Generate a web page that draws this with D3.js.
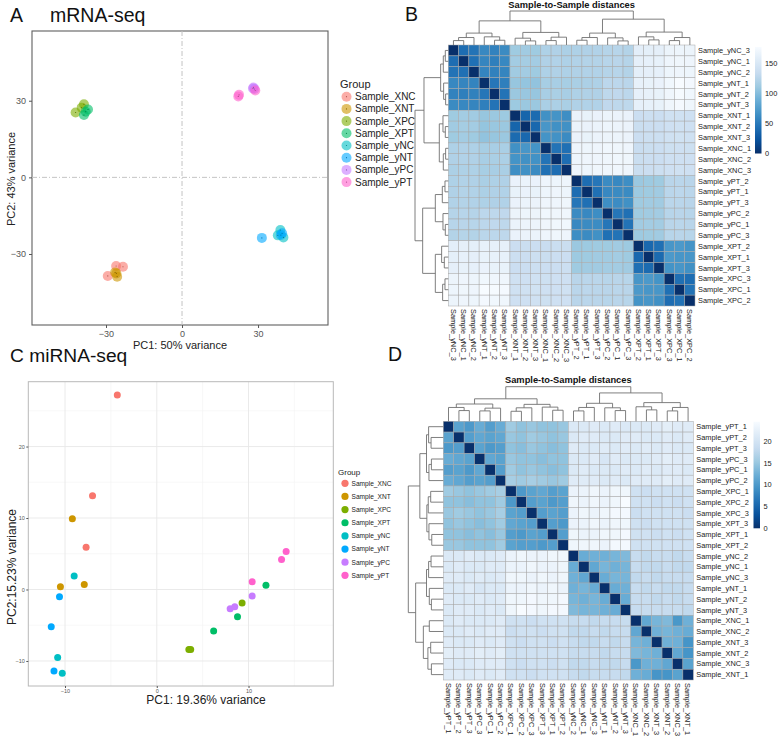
<!DOCTYPE html>
<html>
<head>
<meta charset="utf-8">
<script src="https://cdn.jsdelivr.net/npm/d3@7"></script>
<style>
  body { margin: 0; background: #fff; }
  text { font-family: "Liberation Sans", Arial, Helvetica, sans-serif; }
</style>
</head>
<body>
<svg id="fig" width="778" height="736"></svg>
<script>
// ---- data ----
const groups = ["Sample_XNC", "Sample_XNT", "Sample_XPC", "Sample_XPT", "Sample_yNC", "Sample_yNT", "Sample_yPC", "Sample_yPT"];
const groupColors = ["#F8766D", "#CD9600", "#7CAE00", "#00BE67", "#00BFC4", "#00A9FF", "#C77CFF", "#FF61CC"];

// A: mRNA-seq PCA (3 samples per group)
const mrnaGroup = [0, 0, 0, 1, 1, 1, 2, 2, 2, 3, 3, 3, 4, 4, 4, 5, 5, 5, 6, 6, 6, 7, 7, 7];
const mrnaPC1 = [-29.3, -26.0, -23.3, -25.6, -25.9, -26.4, -42.0, -38.7, -39.6, -37.1, -38.7, -38.0,
                 38.8, 37.8, 40.0, 31.5, 39.5, 39.0, 28.2, 28.0, 28.6, 22.5, 22.2, 28.9];
const mrnaPC2 = [-38.6, -34.7, -35.0, -38.9, -37.6, -37.2, 25.4, 28.6, 27.3, 26.6, 24.4, 25.7,
                 -20.6, -22.7, -23.5, -23.7, -21.9, -22.6, 35.2, 34.8, 34.6, 32.3, 31.7, 34.0];
const mrnaTicks = [-30, 0, 30];

// C: miRNA-seq PCA
const mirnaGroup = [0, 0, 0, 1, 1, 1, 2, 2, 2, 3, 3, 3, 4, 4, 4, 5, 5, 5, 6, 6, 6, 7, 7, 7];
const mirnaPC1 = [-4.3, -7.0, -7.7, -9.2, -10.5, -7.9, 3.5, 3.7, 9.3, 6.2, 8.8, 11.9,
                  -9.0, -10.8, -10.3, -10.6, -11.5, -11.2, 8.0, 8.5, 10.4, 10.4, 13.6, 14.1];
const mirnaPC2 = [27.2, 13.1, 5.9, 9.9, 0.4, 0.7, -8.4, -8.4, -1.9, -5.8, -3.8, 0.6,
                  1.9, -9.5, -11.7, -1.0, -5.2, -11.4, -2.7, -2.4, -0.9, 1.1, 4.2, 5.3];
const mirnaXTicks = [-10, 0, 10];
const mirnaYTicks = [-10, 0, 10, 20];

// B: mRNA sample-to-sample distances (lower triangle, rows in heatmap order)
const mrnaSamples = ["Sample_yNC_3", "Sample_yNC_1", "Sample_yNC_2", "Sample_yNT_1", "Sample_yNT_2", "Sample_yNT_3",
  "Sample_XNT_1", "Sample_XNT_2", "Sample_XNT_3", "Sample_XNC_1", "Sample_XNC_2", "Sample_XNC_3",
  "Sample_yPT_2", "Sample_yPT_1", "Sample_yPT_3", "Sample_yPC_2", "Sample_yPC_1", "Sample_yPC_3",
  "Sample_XPT_2", "Sample_XPT_1", "Sample_XPT_3", "Sample_XPC_3", "Sample_XPC_1", "Sample_XPC_2"];
const mrnaDist = [
  [0],
  [42, 0],
  [46, 44, 0],
  [60, 58, 57, 0],
  [56, 54, 55, 48, 0],
  [62, 60, 58, 54, 46, 0],
  [112, 114, 113, 108, 110, 111, 0],
  [113, 115, 114, 107, 109, 110, 36, 0],
  [112, 114, 112, 106, 108, 110, 40, 38, 0],
  [120, 121, 120, 116, 117, 118, 66, 70, 68, 0],
  [121, 122, 121, 117, 118, 119, 68, 66, 67, 46, 0],
  [119, 120, 120, 116, 117, 118, 64, 66, 62, 44, 42, 0],
  [120, 122, 121, 118, 120, 121, 166, 167, 166, 170, 169, 170, 0],
  [121, 123, 122, 119, 121, 122, 165, 166, 165, 169, 170, 169, 42, 0],
  [122, 123, 122, 120, 121, 122, 166, 167, 167, 170, 170, 171, 48, 44, 0],
  [124, 125, 124, 128, 129, 130, 168, 169, 168, 172, 171, 171, 62, 60, 64, 0],
  [125, 126, 125, 128, 130, 129, 167, 168, 168, 171, 172, 172, 60, 62, 63, 48, 0],
  [123, 124, 123, 127, 128, 129, 166, 167, 167, 170, 171, 170, 64, 62, 66, 44, 46, 0],
  [160, 162, 161, 164, 163, 163, 138, 137, 138, 136, 137, 137, 110, 111, 112, 112, 113, 111, 0],
  [161, 163, 162, 165, 164, 164, 139, 138, 139, 137, 138, 138, 111, 112, 113, 113, 114, 112, 38, 0],
  [162, 164, 163, 166, 165, 165, 138, 138, 139, 138, 138, 139, 112, 113, 113, 114, 114, 113, 44, 40, 0],
  [168, 170, 169, 172, 171, 171, 142, 141, 142, 140, 141, 141, 126, 127, 127, 125, 126, 125, 70, 72, 68, 0],
  [169, 171, 170, 178, 176, 175, 142, 142, 143, 141, 141, 142, 127, 128, 127, 126, 127, 126, 72, 70, 70, 44, 0],
  [168, 170, 169, 174, 172, 171, 141, 141, 142, 140, 141, 141, 126, 127, 126, 125, 126, 125, 68, 70, 66, 42, 46, 0]
];
// dendrograms: [mergeHeight, left, right], leaves = row/column index
const mrnaColTree = [100,
  [71, [35, [22, [13, 0, 1], 2], [24, 3, [14, 4, 5]]],
       [37, [20, 6, [12, 7, 8]], [23, [13, 9, 10], 11]]],
  [76, [35, [22, [14, 12, 13], 14], [21, 15, [12, 16, 17]]],
       [38, [24, 18, [15, 19, 20]], [22, [13, 21, 22], 23]]]];
const mrnaRowTree = [100,
  [73, [23, [15, [9, 0, 1], 2], [14, 3, [8, 4, 5]]],
       [27, [16, 6, [9, 7, 8]], [15, [8, 9, 10], 11]]],
  [77, [39, [18, [10, 12, 13], 14], [16, 15, [9, 16, 17]]],
       [39, [20, 18, [12, 19, 20]], [17, [10, 21, 22], 23]]]];
const mrnaLegendTicks = [0, 50, 100, 150];

// D: miRNA sample-to-sample distances
const mirnaSamples = ["Sample_yPT_1", "Sample_yPT_2", "Sample_yPT_3", "Sample_yPC_3", "Sample_yPC_1", "Sample_yPC_2",
  "Sample_XPC_1", "Sample_XPC_2", "Sample_XPC_3", "Sample_XPT_3", "Sample_XPT_1", "Sample_XPT_2",
  "Sample_yNC_2", "Sample_yNC_1", "Sample_yNC_3", "Sample_yNT_1", "Sample_yNT_2", "Sample_yNT_3",
  "Sample_XNC_1", "Sample_XNC_2", "Sample_XNT_3", "Sample_XNT_2", "Sample_XNC_3", "Sample_XNT_1"];
const mirnaDist = [
  [0],
  [11, 0],
  [10, 10.5, 0],
  [12, 11.5, 11, 0],
  [10.5, 11, 10, 11.5, 0],
  [12, 11.5, 10.5, 11, 10.5, 0],
  [15.5, 15, 14.5, 15, 15.5, 16, 0],
  [14.5, 14.5, 14, 14.5, 14.5, 15.5, 10, 0],
  [15, 15.5, 15, 14.5, 15, 16, 11, 10.5, 0],
  [14.5, 15, 14.5, 14, 14.5, 15.5, 11.5, 11, 10.5, 0],
  [14.5, 14.5, 14, 14.5, 14, 15, 10.5, 10, 11, 10.5, 0],
  [15, 15, 14.5, 14.5, 14.5, 15.5, 11, 10.5, 10.5, 10, 10.5, 0],
  [21, 21, 21.5, 21, 21, 21.5, 23, 23.5, 23, 23, 23.5, 23.5, 0],
  [21, 21.5, 21, 21, 21.5, 21.5, 23, 23, 23.5, 23, 23, 23.5, 12, 0],
  [21.5, 21.5, 21, 21.5, 21, 21.5, 23.5, 23.5, 23, 23.5, 23, 23.5, 12.5, 11.5, 0],
  [21, 21, 21.5, 20.5, 21, 21, 23, 23, 23.5, 23, 23.5, 23, 12.5, 13, 12, 0],
  [21.5, 21, 21, 21.5, 21, 21.5, 23.5, 23.5, 24, 23.5, 23.5, 24, 13, 12.5, 13, 12, 0],
  [21, 21.5, 21.5, 21, 21.5, 21, 23.5, 24.5, 24, 23.5, 24, 24, 13.5, 13, 13, 12.5, 12, 0],
  [21, 21.5, 21, 21, 21, 21.5, 19.5, 19.5, 19, 19.5, 19.5, 19.5, 18.5, 18.5, 18, 18.5, 18.5, 18.5, 0],
  [21, 21, 21.5, 21, 21.5, 21.5, 19, 19.5, 19.5, 19, 19.5, 19.5, 18, 18, 18.5, 18, 18.5, 18.5, 11.5, 0],
  [21.5, 21, 21, 21.5, 21, 21.5, 19.5, 19, 19.5, 19.5, 19, 19.5, 18.5, 18, 18, 18.5, 18, 18.5, 13, 12.5, 0],
  [22, 21.5, 21.5, 22, 21.5, 22, 19.5, 19.5, 19.5, 19.5, 19.5, 19.5, 18.5, 18.5, 18.5, 18, 18.5, 18.5, 13.5, 13, 12.5, 0],
  [21.5, 21, 21, 21.5, 21.5, 21.5, 19.5, 19, 19.5, 19.5, 19, 19.5, 18, 18, 18.5, 18, 18, 18.5, 9.8, 12.5, 12.5, 11.5, 0],
  [21.5, 21.5, 21, 21.5, 21, 21.5, 19.5, 19.5, 19, 19.5, 19.5, 19.5, 18.5, 18, 18.5, 18.5, 18.5, 18, 12.5, 12, 9.5, 9.5, 11, 0]
];
const mirnaColTree = [100,
  [65, [50, [40, 0, [31, 1, 2]], [38, [30, 3, 4], 5]],
       [49, [39, [29, 6, 7], 8], [41, 9, [32, 10, 11]]]],
  [82, [52, [40, [30, 12, 13], 14], [39, 15, [31, 16, 17]]],
       [54, [42, 18, [33, 19, 20]], [40, [30, 21, 22], 23]]]];
const mirnaRowTree = [100,
  [67, [48, [42, 0, [35, 1, 2]], [41, [34, 3, 4], 5]],
       [47, [43, [36, 6, 7], 8], [41, 9, [33, 10, 11]]]],
  [79, [48, [42, [35, 12, 13], 14], [40, 15, [34, 16, 17]]],
       [57, [40, 18, 19], [44, [36, 20, 21], [34, 22, 23]]]]];
const mirnaLegendTicks = [0, 5, 10, 15, 20];

// ---- drawing ----
const svg = d3.select("#fig");
const fmt = d => d < 0 ? "\u2212" + Math.abs(d) : String(d);

function panelLabel(x, y, txt, size) {
  svg.append("text").attr("x", x).attr("y", y).attr("font-size", size).attr("fill", "#111").text(txt);
}

// ===== Panel A =====
panelLabel(10, 22, "A", 19.5);
panelLabel(50, 22, "mRNA-seq", 19.5);

const xA = d3.scaleLinear().domain([-59.2, 57.6]).range([32, 328]);
const yA = d3.scaleLinear().domain([-57.8, 57.3]).range([325, 31]);
const gA = svg.append("g");

gA.append("rect").attr("x", 32).attr("y", 31).attr("width", 296).attr("height", 294)
  .attr("fill", "#fff").attr("stroke", "#5f5f5f").attr("stroke-width", 1.1);
gA.append("line").attr("x1", xA(0)).attr("x2", xA(0)).attr("y1", 31).attr("y2", 325)
  .attr("stroke", "#c4c4c4").attr("stroke-dasharray", "5,2,1,2");
gA.append("line").attr("x1", 32).attr("x2", 328).attr("y1", yA(0)).attr("y2", yA(0))
  .attr("stroke", "#c4c4c4").attr("stroke-dasharray", "5,2,1,2");

gA.selectAll("circle.pt").data(mrnaPC1).enter().append("circle").attr("class", "pt")
  .attr("cx", d => xA(d)).attr("cy", (d, i) => yA(mrnaPC2[i])).attr("r", 5)
  .attr("fill", (d, i) => groupColors[mrnaGroup[i]]).attr("fill-opacity", 0.6);
gA.selectAll("circle.dot").data(mrnaPC1).enter().append("circle").attr("class", "dot")
  .attr("cx", d => xA(d)).attr("cy", (d, i) => yA(mrnaPC2[i])).attr("r", 0.6)
  .attr("fill", (d, i) => d3.color(groupColors[mrnaGroup[i]]).darker(1));

function styleAxis(g, size, color) {
  g.select(".domain").remove();
  g.attr("font-family", null).attr("font-size", size).attr("color", color);
}
gA.append("g").attr("transform", "translate(0,325)")
  .call(d3.axisBottom(xA).tickValues(mrnaTicks).tickSize(3).tickFormat(fmt))
  .call(g => styleAxis(g, 9, "#555"));
gA.append("g").attr("transform", "translate(32,0)")
  .call(d3.axisLeft(yA).tickValues(mrnaTicks).tickSize(3).tickFormat(fmt))
  .call(g => styleAxis(g, 9, "#555"));

gA.append("text").attr("x", 180).attr("y", 349).attr("text-anchor", "middle")
  .attr("font-size", 11).attr("fill", "#222").text("PC1: 50% variance");
gA.append("text").attr("transform", "translate(15,179) rotate(-90)").attr("text-anchor", "middle")
  .attr("font-size", 11).attr("fill", "#222").text("PC2: 43% variance");

const legA = gA.append("g");
legA.append("text").attr("x", 340).attr("y", 88).attr("font-size", 11).attr("fill", "#222").text("Group");
groups.forEach((gr, i) => {
  const cy = 96.7 + i * 12.2;
  legA.append("circle").attr("cx", 346.5).attr("cy", cy).attr("r", 5)
    .attr("fill", groupColors[i]).attr("fill-opacity", 0.6);
  legA.append("circle").attr("cx", 346.5).attr("cy", cy).attr("r", 0.6)
    .attr("fill", d3.color(groupColors[i]).darker(1));
  legA.append("text").attr("x", 355).attr("y", cy).attr("dy", "0.35em")
    .attr("font-size", 10).attr("fill", "#222").text(gr);
});

// ===== Panel C =====
panelLabel(10, 361.5, "C miRNA-seq", 19.2);

const xC = d3.scaleLinear().domain([-14.0, 19.24]).range([28.3, 333.3]);
const yC = d3.scaleLinear().domain([-13.5, 29.07]).range([686, 381.7]);
const gC = svg.append("g");
gC.append("rect").attr("x", 28.3).attr("y", 381.7).attr("width", 305).attr("height", 304.3).attr("fill", "#fff");
[-5, 5, 15].forEach(v => gC.append("line").attr("x1", xC(v)).attr("x2", xC(v)).attr("y1", 381.7).attr("y2", 686)
  .attr("stroke", "#f3f3f3").attr("stroke-width", 0.6));
[-5, 5, 15, 25].forEach(v => gC.append("line").attr("x1", 28.3).attr("x2", 333.3).attr("y1", yC(v)).attr("y2", yC(v))
  .attr("stroke", "#f3f3f3").attr("stroke-width", 0.6));
mirnaXTicks.forEach(v => gC.append("line").attr("x1", xC(v)).attr("x2", xC(v)).attr("y1", 381.7).attr("y2", 686)
  .attr("stroke", "#e8e8e8").attr("stroke-width", 0.9));
mirnaYTicks.forEach(v => gC.append("line").attr("x1", 28.3).attr("x2", 333.3).attr("y1", yC(v)).attr("y2", yC(v))
  .attr("stroke", "#e8e8e8").attr("stroke-width", 0.9));
gC.append("rect").attr("x", 28.3).attr("y", 381.7).attr("width", 305).attr("height", 304.3)
  .attr("fill", "none").attr("stroke", "#b8b8b8").attr("stroke-width", 1);

gC.selectAll("circle.pt").data(mirnaPC1).enter().append("circle").attr("class", "pt")
  .attr("cx", d => xC(d)).attr("cy", (d, i) => yC(mirnaPC2[i])).attr("r", 3.5)
  .attr("fill", (d, i) => groupColors[mirnaGroup[i]]);

gC.append("g").attr("transform", "translate(0,686)")
  .call(d3.axisBottom(xC).tickValues(mirnaXTicks).tickSize(2).tickPadding(1.5).tickFormat(fmt))
  .call(g => styleAxis(g, 5.5, "#555"));
gC.append("g").attr("transform", "translate(28.3,0)")
  .call(d3.axisLeft(yC).tickValues(mirnaYTicks).tickSize(2).tickPadding(1.5).tickFormat(fmt))
  .call(g => styleAxis(g, 5.5, "#555"));

gC.append("text").attr("x", 206).attr("y", 704).attr("text-anchor", "middle")
  .attr("font-size", 12).attr("fill", "#222").text("PC1: 19.36% variance");
gC.append("text").attr("transform", "translate(16,567) rotate(-90)").attr("text-anchor", "middle")
  .attr("font-size", 12).attr("fill", "#222").text("PC2:15.23% variance");

const legC = gC.append("g");
legC.append("text").attr("x", 338).attr("y", 474.5).attr("font-size", 8).attr("fill", "#222").text("Group");
groups.forEach((gr, i) => {
  const cy = 483.3 + i * 13.15;
  legC.append("circle").attr("cx", 345).attr("cy", cy).attr("r", 3.6).attr("fill", groupColors[i]);
  legC.append("text").attr("x", 351.5).attr("y", cy).attr("dy", "0.35em")
    .attr("font-size", 6.6).attr("fill", "#222").text(gr);
});

// ===== Heatmaps =====
function drawTree(g, node, pos, hs, side) {
  if (typeof node === "number") return { p: pos(node), h: 0 };
  const a = drawTree(g, node[1], pos, hs, side);
  const b = drawTree(g, node[2], pos, hs, side);
  const h = node[0];
  const d = side === "top"
    ? `M${a.p},${hs(a.h)}V${hs(h)}H${b.p}V${hs(b.h)}`
    : `M${hs(a.h)},${a.p}H${hs(h)}V${b.p}H${hs(b.h)}`;
  g.append("path").attr("d", d).attr("fill", "none").attr("stroke", "#707070").attr("stroke-width", 0.9);
  return { p: (a.p + b.p) / 2, h };
}

function drawHeatmap(c) {
  const n = c.samples.length;
  const m = c.tri.map((r, i) => c.tri.map((_, j) => j <= i ? c.tri[i][j] : c.tri[j][i]));
  const vmax = d3.max(m.flat());
  const color = d3.scaleLinear().domain(d3.range(9).map(k => vmax * k / 8))
    .range(d3.schemeBlues[9].slice().reverse());
  const x = d3.scaleBand().domain(d3.range(n)).range([c.x0, c.x1]);
  const y = d3.scaleBand().domain(d3.range(n)).range([c.y0, c.y1]);
  const g = svg.append("g");

  m.forEach((row, i) => row.forEach((v, j) => {
    g.append("rect").attr("x", x(j)).attr("y", y(i)).attr("width", x.bandwidth()).attr("height", y.bandwidth())
      .attr("fill", color(v)).attr("stroke", "#a8a8a8").attr("stroke-width", 0.5);
  }));

  g.selectAll("text.row").data(c.samples).enter().append("text").attr("class", "row")
    .attr("x", c.x1 + 3).attr("y", (d, i) => y(i) + y.bandwidth() / 2).attr("dy", "0.35em")
    .attr("font-size", 7.4).attr("fill", "#222").text(d => d);
  g.selectAll("text.col").data(c.samples).enter().append("text").attr("class", "col")
    .attr("transform", (d, i) => `translate(${x(i) + x.bandwidth() / 2},${c.y1 + 3}) rotate(90)`)
    .attr("dy", "0.35em").attr("font-size", 7.4).attr("fill", "#222").text(d => d);

  g.append("text").attr("x", (c.x0 + c.x1) / 2).attr("y", c.titleY).attr("text-anchor", "middle")
    .attr("font-size", 9.3).attr("font-weight", "bold").attr("fill", "#111").text("Sample-to-Sample distances");

  const hTop = d3.scaleLinear().domain([0, 100]).range([c.y0, c.treeTop]);
  const hLeft = d3.scaleLinear().domain([0, 100]).range([c.x0, c.treeLeft]);
  drawTree(g, c.colTree, i => x(i) + x.bandwidth() / 2, hTop, "top");
  drawTree(g, c.rowTree, i => y(i) + y.bandwidth() / 2, hLeft, "left");

  // colour key
  const ly = d3.scaleLinear().domain([0, vmax]).range([c.barBottom, c.barTop]);
  const gid = "grad" + c.id;
  const grad = svg.append("defs").append("linearGradient").attr("id", gid)
    .attr("x1", 0).attr("y1", 1).attr("x2", 0).attr("y2", 0);
  d3.range(9).forEach(k => grad.append("stop").attr("offset", k / 8).attr("stop-color", color(vmax * k / 8)));
  g.append("rect").attr("x", c.barX).attr("y", c.barTop).attr("width", 6.5).attr("height", c.barBottom - c.barTop)
    .attr("fill", `url(#${gid})`);
  c.ticks.forEach(t => g.append("text").attr("x", c.barX + 10).attr("y", ly(t)).attr("dy", "0.35em")
    .attr("font-size", 7.4).attr("fill", "#222").text(t));
}

panelLabel(405, 21, "B", 19.5);
drawHeatmap({
  id: "B", samples: mrnaSamples, tri: mrnaDist, colTree: mrnaColTree, rowTree: mrnaRowTree,
  x0: 448.3, x1: 695, y0: 45, y1: 306, treeTop: 11, treeLeft: 415, titleY: 8,
  barX: 755, barTop: 47, barBottom: 153.5, ticks: mrnaLegendTicks
});

panelLabel(388, 361, "D", 19.5);
drawHeatmap({
  id: "D", samples: mirnaSamples, tri: mirnaDist, colTree: mirnaColTree, rowTree: mirnaRowTree,
  x0: 443.3, x1: 693.3, y0: 421.3, y1: 680, treeTop: 386.7, treeLeft: 408.3, titleY: 383,
  barX: 753.5, barTop: 421.7, barBottom: 528.3, ticks: mirnaLegendTicks
});
</script>
</body>
</html>
